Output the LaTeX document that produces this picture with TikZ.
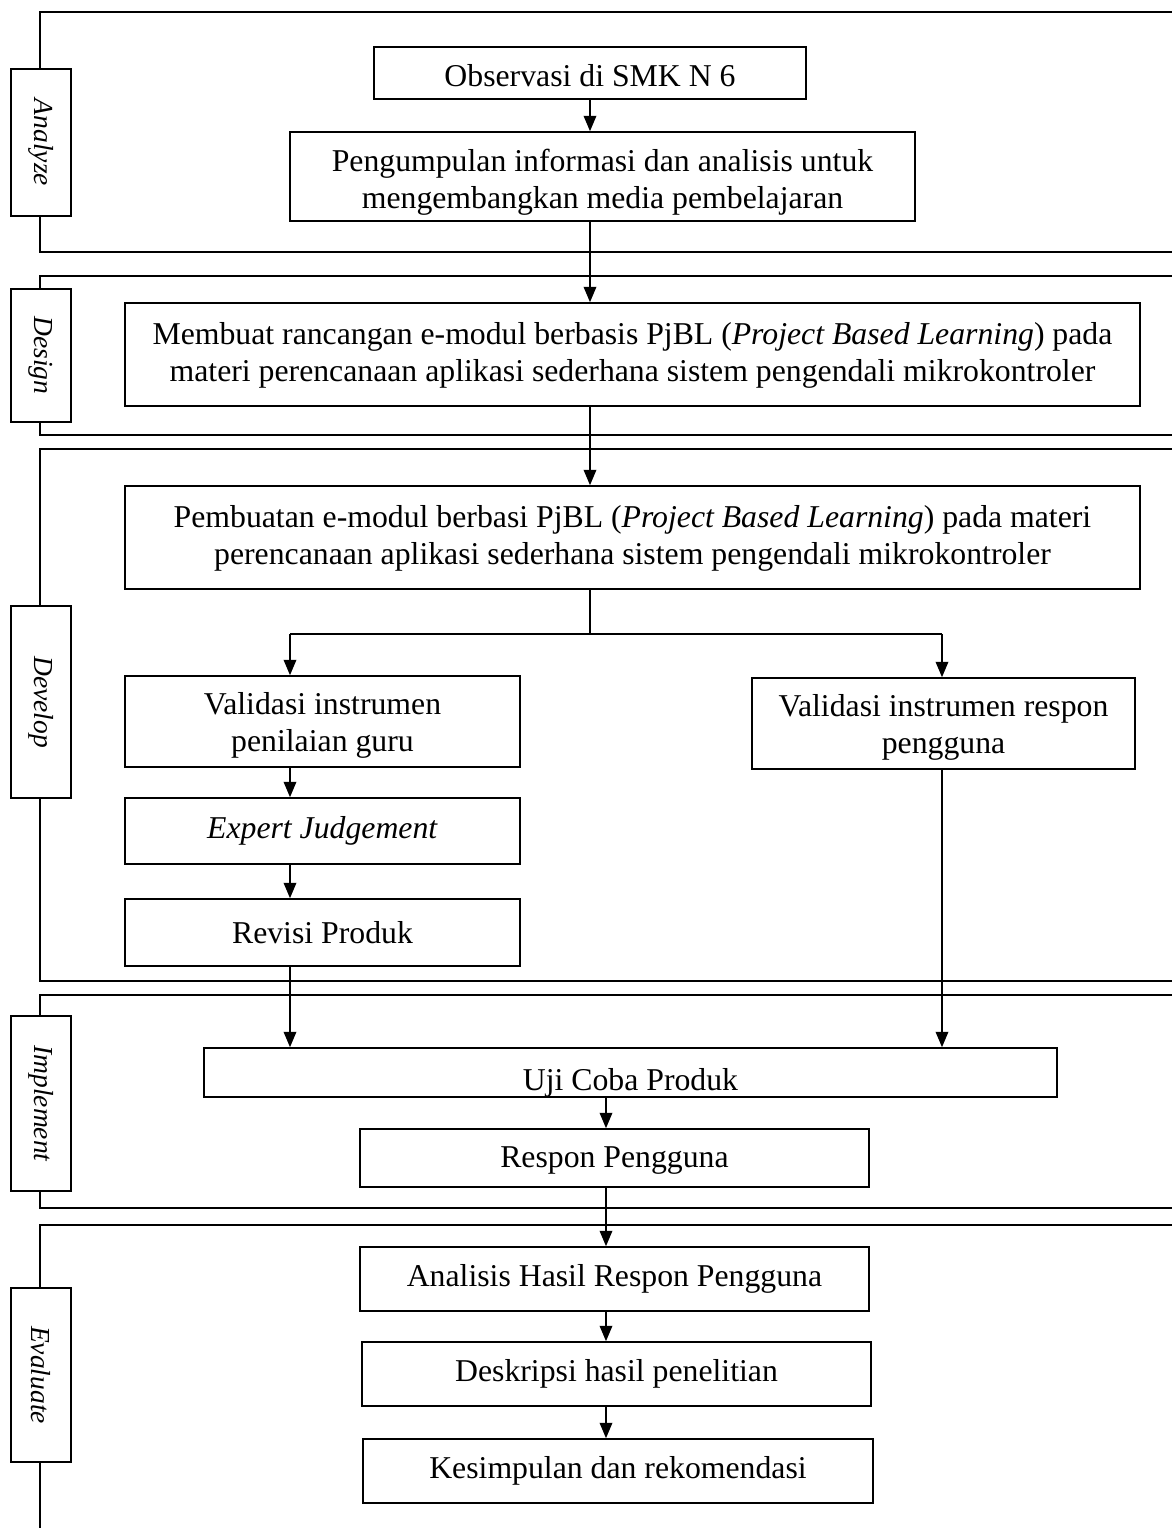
\documentclass[tikz,border=0pt]{standalone}
\usepackage{fontspec}
\setmainfont{Liberation Serif}
\usetikzlibrary{arrows.meta}
\newcommand{\lowtwo}[3]{\raisebox{-#1}[\height][\depth]{\begin{tabular}{@{}c@{}}#2\\ #3\end{tabular}}}
\begin{document}
\begin{tikzpicture}[x=0.4pt,y=-0.4pt,
  box/.style={draw, line width=0.6pt, align=center, inner sep=0pt, font=\fontsize{12.7}{15}\selectfont},
  phase/.style={draw, line width=0.7pt},
  tag/.style={draw, fill=white, line width=0.7pt, inner sep=0pt, rotate=-90, minimum height=24pt, font=\fontsize{11}{13}\selectfont\itshape},
  arr/.style={line width=0.8pt, -{Triangle[length=6.2pt,width=5pt]}},
  lnk/.style={line width=0.8pt}]
\clip (0,0) rectangle (1172,1528);
\fill[white] (0,0) rectangle (1172,1528);
% phase frames
\draw[phase] (1200,12) -- (40,12) -- (40,252) -- (1200,252);
\draw[phase] (1200,276) -- (40,276) -- (40,435) -- (1200,435);
\draw[phase] (1200,449) -- (40,449) -- (40,981) -- (1200,981);
\draw[phase] (1200,995) -- (40,995) -- (40,1208) -- (1200,1208);
\draw[phase] (1200,1225) -- (40,1225) -- (40,1540);
% phase labels
\node[tag, minimum width=58.8pt] (tA) at (41,142.5) {Analyze};
\node[tag, minimum width=53.2pt] (tD) at (41,355.5) {Design};
\node[tag, minimum width=76.8pt] (tV) at (41,702) {Develop};
\node[tag, minimum width=70pt] (tI) at (41,1103.5) {Implement};
\node[tag, minimum width=69.6pt] (tE) at (41,1375) {Evaluate};
% boxes
\node[box, minimum width=172.8pt, minimum height=20.8pt] (obs) at (590,73) {\raisebox{-1pt}[\height][\depth]{Observasi di SMK N 6}};
\node[box, minimum width=250pt, minimum height=35.6pt] (peng) at (602.5,176.5) {\lowtwo{2.4pt}{Pengumpulan informasi dan analisis untuk}{mengembangkan media pembelajaran}};
\node[box, minimum width=406pt, minimum height=41.2pt] (des) at (632.5,354.5) {\lowtwo{0.4pt}{Membuat rancangan e-modul berbasis PjBL (\textit{Project Based Learning}) pada}{materi perencanaan aplikasi sederhana sistem pengendali mikrokontroler}};
\node[box, minimum width=406pt, minimum height=41.2pt] (pem) at (632.5,537.5) {\lowtwo{0.4pt}{Pembuatan e-modul berbasi PjBL (\textit{Project Based Learning}) pada materi}{perencanaan aplikasi sederhana sistem pengendali mikrokontroler}};
\node[box, minimum width=158pt, minimum height=36.4pt] (vg) at (322.5,721.5) {\lowtwo{1.6pt}{Validasi instrumen}{penilaian guru}};
\node[box, minimum width=158pt, minimum height=26.4pt] (ej) at (322.5,831) {\textit{Expert Judgement}};
\node[box, minimum width=158pt, minimum height=26.8pt] (rp) at (322.5,932.5) {Revisi Produk};
\node[box, minimum width=153.2pt, minimum height=36.4pt] (vr) at (943.5,723.5) {\lowtwo{1.6pt}{Validasi instrumen respon}{pengguna}};
\node[box, minimum width=341.2pt, minimum height=19.6pt] (uji) at (630.5,1072.5) {\raisebox{-4.5pt}[8pt][2.6pt]{Uji Coba Produk}};
\node[box, minimum width=203.6pt, minimum height=23.2pt] (res) at (614.5,1158) {\raisebox{-1pt}[\height][\depth]{Respon Pengguna}};
\node[box, minimum width=203.6pt, minimum height=25.6pt] (ana) at (614.5,1279) {Analisis Hasil Respon Pengguna};
\node[box, minimum width=203.6pt, minimum height=25.6pt] (dsk) at (616.5,1374) {Deskripsi hasil penelitian};
\node[box, minimum width=204pt, minimum height=25.6pt] (kes) at (618,1471) {Kesimpulan dan rekomendasi};
% guide coordinates
\coordinate (xa) at (590,0);
\coordinate (xl) at (290,0);
\coordinate (xr) at (942,0);
\coordinate (xb) at (606,0);
\coordinate (jm) at (590,634);
\coordinate (jl) at (290,634);
\coordinate (jr) at (942,634);
% connectors
\draw[arr] (xa |- obs.south) -- (xa |- peng.north);
\draw[arr] (xa |- peng.south) -- (xa |- des.north);
\draw[arr] (xa |- des.south) -- (xa |- pem.north);
\draw[line width=0.6pt] (jm |- pem.south) -- (jm);
\draw[lnk] (jl) -- (jr);
\draw[arr] (jl) -- (jl |- vg.north);
\draw[arr] (jr) -- (jr |- vr.north);
\draw[arr] (xl |- vg.south) -- (xl |- ej.north);
\draw[arr] (xl |- ej.south) -- (xl |- rp.north);
\draw[arr] (xl |- rp.south) -- (xl |- uji.north);
\draw[arr] (xr |- vr.south) -- (xr |- uji.north);
\draw[arr] (xb |- uji.south) -- (xb |- res.north);
\draw[arr] (xb |- res.south) -- (xb |- ana.north);
\draw[arr] (xb |- ana.south) -- (xb |- dsk.north);
\draw[arr] (xb |- dsk.south) -- (xb |- kes.north);
\end{tikzpicture}
\end{document}
